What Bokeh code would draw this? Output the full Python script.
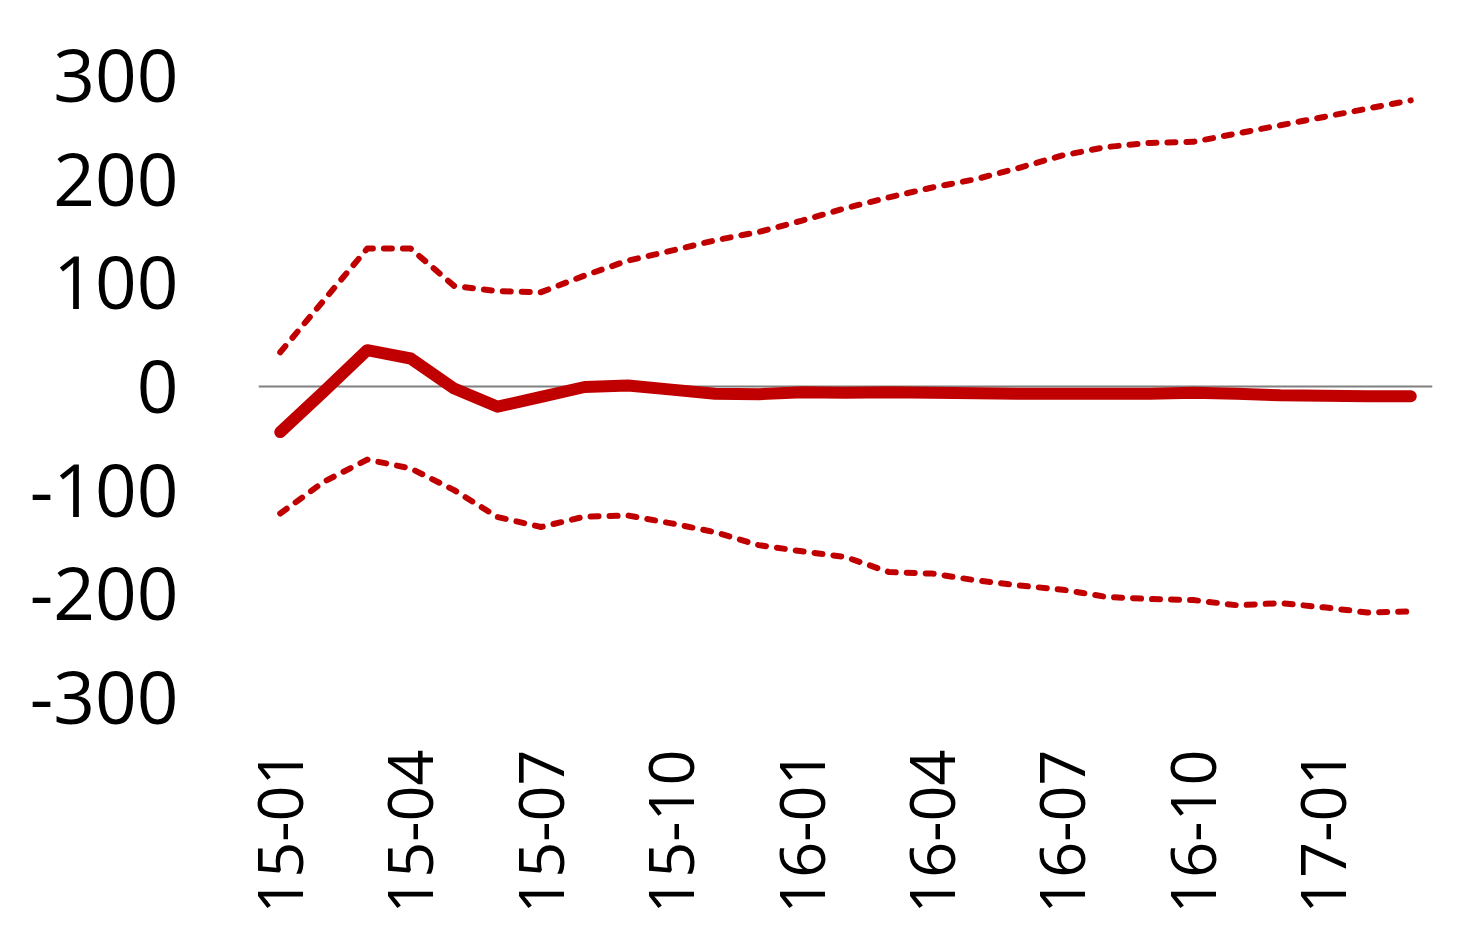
from math import pi
from bokeh.plotting import figure
from bokeh.models import Range1d, FixedTicker, Span, ColumnDataSource
from bokeh.embed import file_html
from bokeh.resources import INLINE

months = ["15-01", "15-02", "15-03", "15-04", "15-05", "15-06", "15-07", "15-08", "15-09",
          "15-10", "15-11", "15-12", "16-01", "16-02", "16-03", "16-04", "16-05", "16-06",
          "16-07", "16-08", "16-09", "16-10", "16-11", "16-12", "17-01", "17-02", "17-03"]

central = [-44, -5, 35, 27, -2, -19.5, -10, -0.5, 1,
           -3, -7, -7.5, -5.5, -6, -5.5, -6, -6.5, -7,
           -7, -7, -7, -6, -7, -8.5, -9, -9.5, -9.5]

upper = [33, 83, 133, 133, 97, 92, 91, 107, 121.5,
         131, 141, 149, 160, 172, 182.5, 192, 200, 211,
         223, 231, 235, 236, 244, 252, 260, 268, 276]

lower = [-122.5, -92, -70.5, -79, -100, -126, -135.5, -125.5, -124.5,
         -132, -140.5, -153, -159, -164.5, -179, -180.5, -187, -192,
         -196, -203, -205, -206, -211, -209, -213, -218, -217]

y_ticks = [-300, -200, -100, 0, 100, 200, 300]
y_tick_labels = ["-300", "-200", "-100", "0", "100", "200", "300"]

RED = "#C00000"
FONT = "Open Sans"

x = list(range(len(months)))
src = ColumnDataSource(dict(x=x, central=central, upper=upper, lower=lower))

p = figure(frame_width=1174, frame_height=622,
           min_border_left=258, min_border_right=30,
           min_border_top=75, min_border_bottom=225,
           x_range=Range1d(-0.5, len(months) - 0.5),
           y_range=Range1d(y_ticks[0], y_ticks[-1]),
           output_backend="svg", toolbar_location=None)

p.outline_line_color = None
p.grid.visible = False
p.background_fill_color = "white"
p.border_fill_color = "white"

zero = Span(location=0, dimension="width", line_color="#808080", line_width=2, level="underlay")
p.add_layout(zero)

p.line("x", "upper", source=src, line_color=RED, line_width=6,
       line_dash="8 11", line_cap="round", line_join="round")
p.line("x", "lower", source=src, line_color=RED, line_width=6,
       line_dash="8 11", line_cap="round", line_join="round")
p.line("x", "central", source=src, line_color=RED, line_width=12,
       line_cap="round", line_join="round")

tick_idx = x[::3]
p.xaxis.ticker = FixedTicker(ticks=tick_idx)
p.xaxis.major_label_overrides = {i: months[i] for i in tick_idx}
p.xaxis.major_label_orientation = pi / 2
p.xaxis.major_label_standoff = 52
p.xaxis.major_label_text_font_size = "63px"

p.yaxis.ticker = FixedTicker(ticks=y_ticks)
p.yaxis.major_label_overrides = dict(zip(y_ticks, y_tick_labels))
p.yaxis.major_label_standoff = 80
p.yaxis.major_label_text_font_size = "73px"

for ax in (p.xaxis, p.yaxis):
    ax.axis_line_color = None
    ax.major_tick_line_color = None
    ax.minor_tick_line_color = None
    ax.major_tick_out = 0
    ax.major_tick_in = 0
    ax.major_label_text_font = FONT
    ax.major_label_text_color = "black"

open("out.html", "w").write(file_html(p, INLINE))
